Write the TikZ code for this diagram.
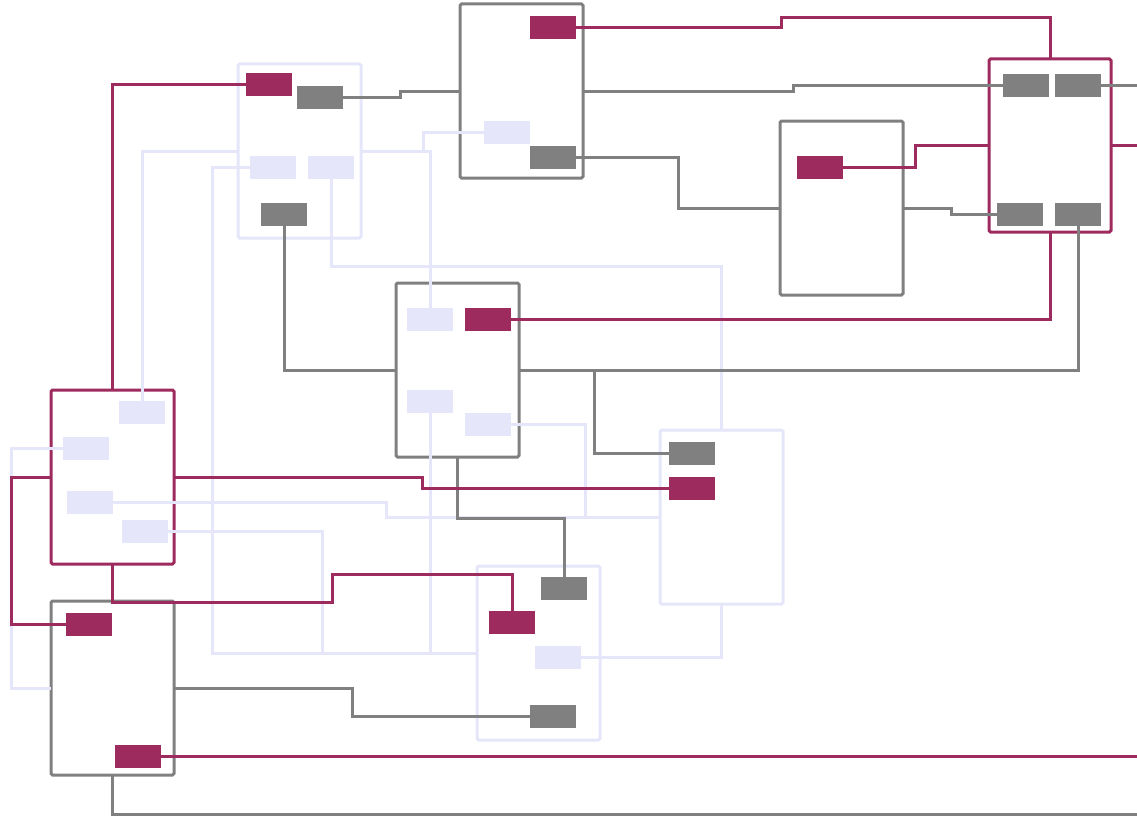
\documentclass[tikz,border=0pt]{standalone}
\definecolor{mag}{HTML}{9E2B5E}
\definecolor{gry}{HTML}{808080}
\definecolor{lav}{HTML}{E6E6FA}
\begin{document}
\begin{tikzpicture}[x=1pt,y=-1pt,
  every node/.style={outer sep=0pt},
  box/.style={draw, line width=3pt, rounded corners=1.5pt, fill=white,
    minimum width=123pt, minimum height=174pt, inner sep=0pt, outer sep=0pt, anchor=north west},
  port/.style={minimum width=46pt, minimum height=23pt, inner sep=0pt, outer sep=0pt, anchor=north west},
  pmag/.style={port},
  pgry/.style={port},
  plav/.style={port},
  cmag/.style={draw=mag, line width=3pt},
  cgry/.style={draw=gry, line width=3pt},
  clav/.style={draw=lav, line width=3pt}]
\useasboundingbox (0,0) rectangle (1137,816);
% boxes
\node[box, draw=lav] (A) at (238,64) {};
\node[box, draw=gry] (B) at (460,4) {};
\node[box, draw=gry] (C) at (780,121) {};
\node[box, draw=mag, minimum width=122pt, minimum height=173pt] (D) at (989,59) {};
\node[box, draw=gry] (E) at (396,283) {};
\node[box, draw=mag] (F) at (51,390) {};
\node[box, draw=gry] (G) at (51,601) {};
\node[box, draw=lav] (H) at (660,430) {};
\node[box, draw=lav] (I) at (477,566) {};
% free ends
\coordinate (oM4) at (1145,145.5);
\coordinate (oM9) at (1145,756.5);
\coordinate (oG3) at (1145,85.5);
\coordinate (oG11) at (1145,814);
% ports
\node[pmag] (am) at (246,73) {};
\node[pgry] (ag) at (297,86) {};
\node[plav] (al1) at (250,156) {};
\node[plav] (al2) at (308,156) {};
\node[pgry] (ag2) at (261,203) {};
\node[pmag] (bm) at (530,16) {};
\node[plav] (bl) at (484,121) {};
\node[pgry] (bg) at (530,146) {};
\node[pmag] (cm) at (797,156) {};
\node[pgry] (dg1) at (1003,74) {};
\node[pgry] (dg2) at (1055,74) {};
\node[pgry] (dg3) at (997,203) {};
\node[pgry] (dg4) at (1055,203) {};
\node[plav] (el1) at (407,308) {};
\node[pmag] (em) at (465,308) {};
\node[plav] (el2) at (407,390) {};
\node[plav] (el3) at (465,413) {};
\node[plav] (fl1) at (119,401) {};
\node[plav] (fl2) at (63,437) {};
\node[plav] (fl3) at (67,491) {};
\node[plav] (fl4) at (122,520) {};
\node[pmag] (gm1) at (66,613) {};
\node[pmag] (gm2) at (115,745) {};
\node[pgry] (hg) at (669,442) {};
\node[pmag] (hm) at (669,477) {};
\node[pgry] (ig1) at (541,577) {};
\node[pmag] (im) at (489,611) {};
\node[plav] (il) at (535,646) {};
\node[pgry] (ig2) at (530,705) {};
% lavender connectors
\draw[clav] (A.west) -| (fl1.north);
\draw[clav] (A.east) -| (el1.north);
\draw[clav] (bl.west) -| (423,151) -- (A.east);
\draw[clav] (al1.west) -| (212,653) -- (I.west);
\draw[clav] (al2.south) |- (721.5,266) -- (H.north);
\draw[clav] (fl2.west) -| (11,688) -- (G.west);
\draw[clav] (fl3.east) -| (386,517) -- (H.west);
\draw[clav] (fl4.east) -| (322,653) -- (I.west);
\draw[clav] (el2.south) |- (I.west);
\draw[clav] (el3.east) -| (585,517) -- (H.west);
\draw[clav] (il.east) -| (H.south);
% gray connectors
\draw[cgry] (ag.east) -| (400,91) -- (B.west);
\draw[cgry] (B.east) -| (793,85.5) -- (dg1.west);
\draw[cgry] (dg2.east) -- (oG3);
\draw[cgry] (bg.east) -| (678,208) -- (C.west);
\draw[cgry] (C.east) -| (951,214.5) -- (dg3.west);
\draw[cgry] (dg4.south) |- (E.east);
\draw[cgry] (ag2.south) |- (E.west);
\draw[cgry] (E.east) -| (594,453.5) -- (hg.west);
\draw[cgry] (E.south) -- ++(0,61) -| (ig1.north);
\draw[cgry] (G.east) -| (352,716.5) -- (ig2.west);
\draw[cgry] (G.south) |- (oG11);
% magenta connectors
\draw[cmag] (bm.east) -| (781,18) -| (D.north);
\draw[cmag] (am.west) -| (F.north);
\draw[cmag] (cm.east) -| (915,145.5) -- (D.west);
\draw[cmag] (D.east) -- (oM4);
\draw[cmag] (D.south) |- (em.east);
\draw[cmag] (F.east) -| (422,488.5) -- (hm.west);
\draw[cmag] (F.south) |- (332,602) -- (332,574) -| (im.north);
\draw[cmag] (F.west) -| (11,624.5) -- (gm1.west);
\draw[cmag] (gm2.east) -- (oM9);
% ports on top
\foreach \n/\c in {am/mag,ag/gry,al1/lav,al2/lav,ag2/gry,bm/mag,bl/lav,bg/gry,cm/mag,
  dg1/gry,dg2/gry,dg3/gry,dg4/gry,el1/lav,em/mag,el2/lav,el3/lav,fl1/lav,fl2/lav,fl3/lav,fl4/lav,
  gm1/mag,gm2/mag,hg/gry,hm/mag,ig1/gry,im/mag,il/lav,ig2/gry}
  \fill[\c] (\n.north west) rectangle (\n.south east);
\end{tikzpicture}
\end{document}
